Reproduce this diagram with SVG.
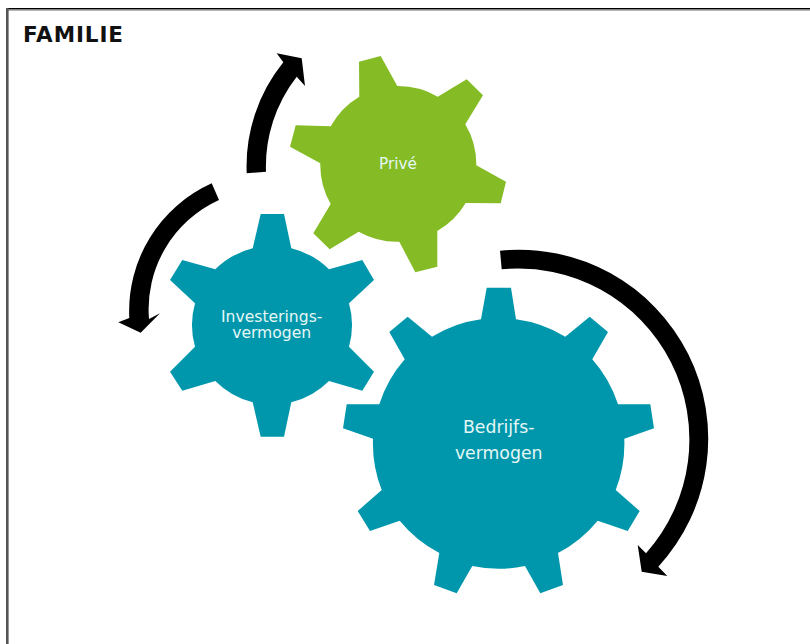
<svg xmlns="http://www.w3.org/2000/svg" width="810" height="644" viewBox="0 0 810 644">
<style>
.t{font-family:"DejaVu Sans","Verdana",sans-serif;fill:#e6f7f6;text-anchor:middle}
.teal{fill:#0097ac}.green{fill:#85bc25}.arrow{fill:#000}
</style>
<rect width="810" height="644" fill="#fff"/>
<rect x="6" y="8" width="804" height="1.6" fill="#000"/>
<rect x="8" y="9.6" width="802" height="1.4" fill="#b5b5b5"/>
<rect x="6" y="8" width="2.6" height="636" fill="#555"/>
<text x="23" y="41.5" font-family="DejaVu Sans, Verdana, sans-serif" font-weight="700" font-size="21.5" letter-spacing="0.9" fill="#111">FAMILIE</text>
<g id="connectors">
<path class="arrow" d="M246.7,173.3A165,165 0 0 1 283.3,62.3L276.7,53.3L301.7,58.3L305,86L296.7,76.7A146,146 0 0 0 266,171.7Z"/>
<path class="arrow" d="M211.7,183.3A140,140 0 0 0 129.3,318L118.3,322.3L140.7,332.7L160,313.3L149,319A120,120 0 0 1 219,200Z"/>
<path class="arrow" d="M500,250.7A189,189 0 0 1 658.3,566.7L667.3,576L641.7,571.7L637.7,545L646,553.3A171,171 0 0 0 501.7,269.3Z"/>
</g>
<g id="prive">
<path class="green" d="M359,61.7L380.7,56L397.3,86A78,78 0 0 1 437.7,96.7L466.7,79.3L483,95.3L465.3,124.3A78,78 0 0 1 476.3,165.3L506,181.7L500.7,203.3L465.7,203A78,78 0 0 1 437.3,231L437.3,266.7L415.3,272.3L399.3,241.7A78,78 0 0 1 358.7,231.7L329.7,249.3L313.3,233.3L330.7,204A78,78 0 0 1 320.3,163.3L290,146.7L295.7,125.3L330.7,126.3A78,78 0 0 1 359.3,96.7Z"/>
<text class="t" x="398" y="169.3" font-size="15.3">Privé</text>
</g>
<g id="investeringsvermogen">
<path class="teal" d="M260.7,214L284,214L291.3,248.3A80,80 0 0 1 329,269.3L362.3,260L374,280L349,303.3A80,80 0 0 1 349,346.7L374,371.7L362.3,390.7L329,381A80,80 0 0 1 291.3,402.3L284,436.7L260.7,436.7L252.7,402.3A80,80 0 0 1 215.3,381L182.3,390.7L170,371.7L195,346.7A80,80 0 0 1 195,303.3L170,280L182.3,260L215.3,269.3A80,80 0 0 1 252.7,248.3Z"/>
<text class="t" font-size="15.6"><tspan x="271.7" y="321.7">Investerings-</tspan><tspan x="271.7" y="338.3">vermogen</tspan></text>
</g>
<g id="bedrijfsvermogen">
<path class="teal" d="M486.7,287.7L511,287.7L516,319.3A127,127 0 0 1 565.3,336.7L589.7,316.7L608,332L592.3,359.3A127,127 0 0 1 618,404.3L650.3,404.3L654,428.3L624.3,438.7A127,127 0 0 1 615.7,490L639.7,511L627.7,531L597.7,520.7A127,127 0 0 1 558,553L563,585L540.3,593.3L525,566A127,127 0 0 1 472.3,566L456.7,593.3L434,585L439.3,553A127,127 0 0 1 399.7,520.7L370,531L357.7,511L381.7,490A127,127 0 0 1 373,438.7L343,428.3L346.7,404.3L379.3,404.3A127,127 0 0 1 404.7,359.3L389.3,332L407.7,316.7L432,336.7A127,127 0 0 1 481,319.3Z"/>
<text class="t" font-size="17.3"><tspan x="498.7" y="432.7">Bedrijfs-</tspan><tspan x="498.7" y="459.3">vermogen</tspan></text>
</g>
</svg>
